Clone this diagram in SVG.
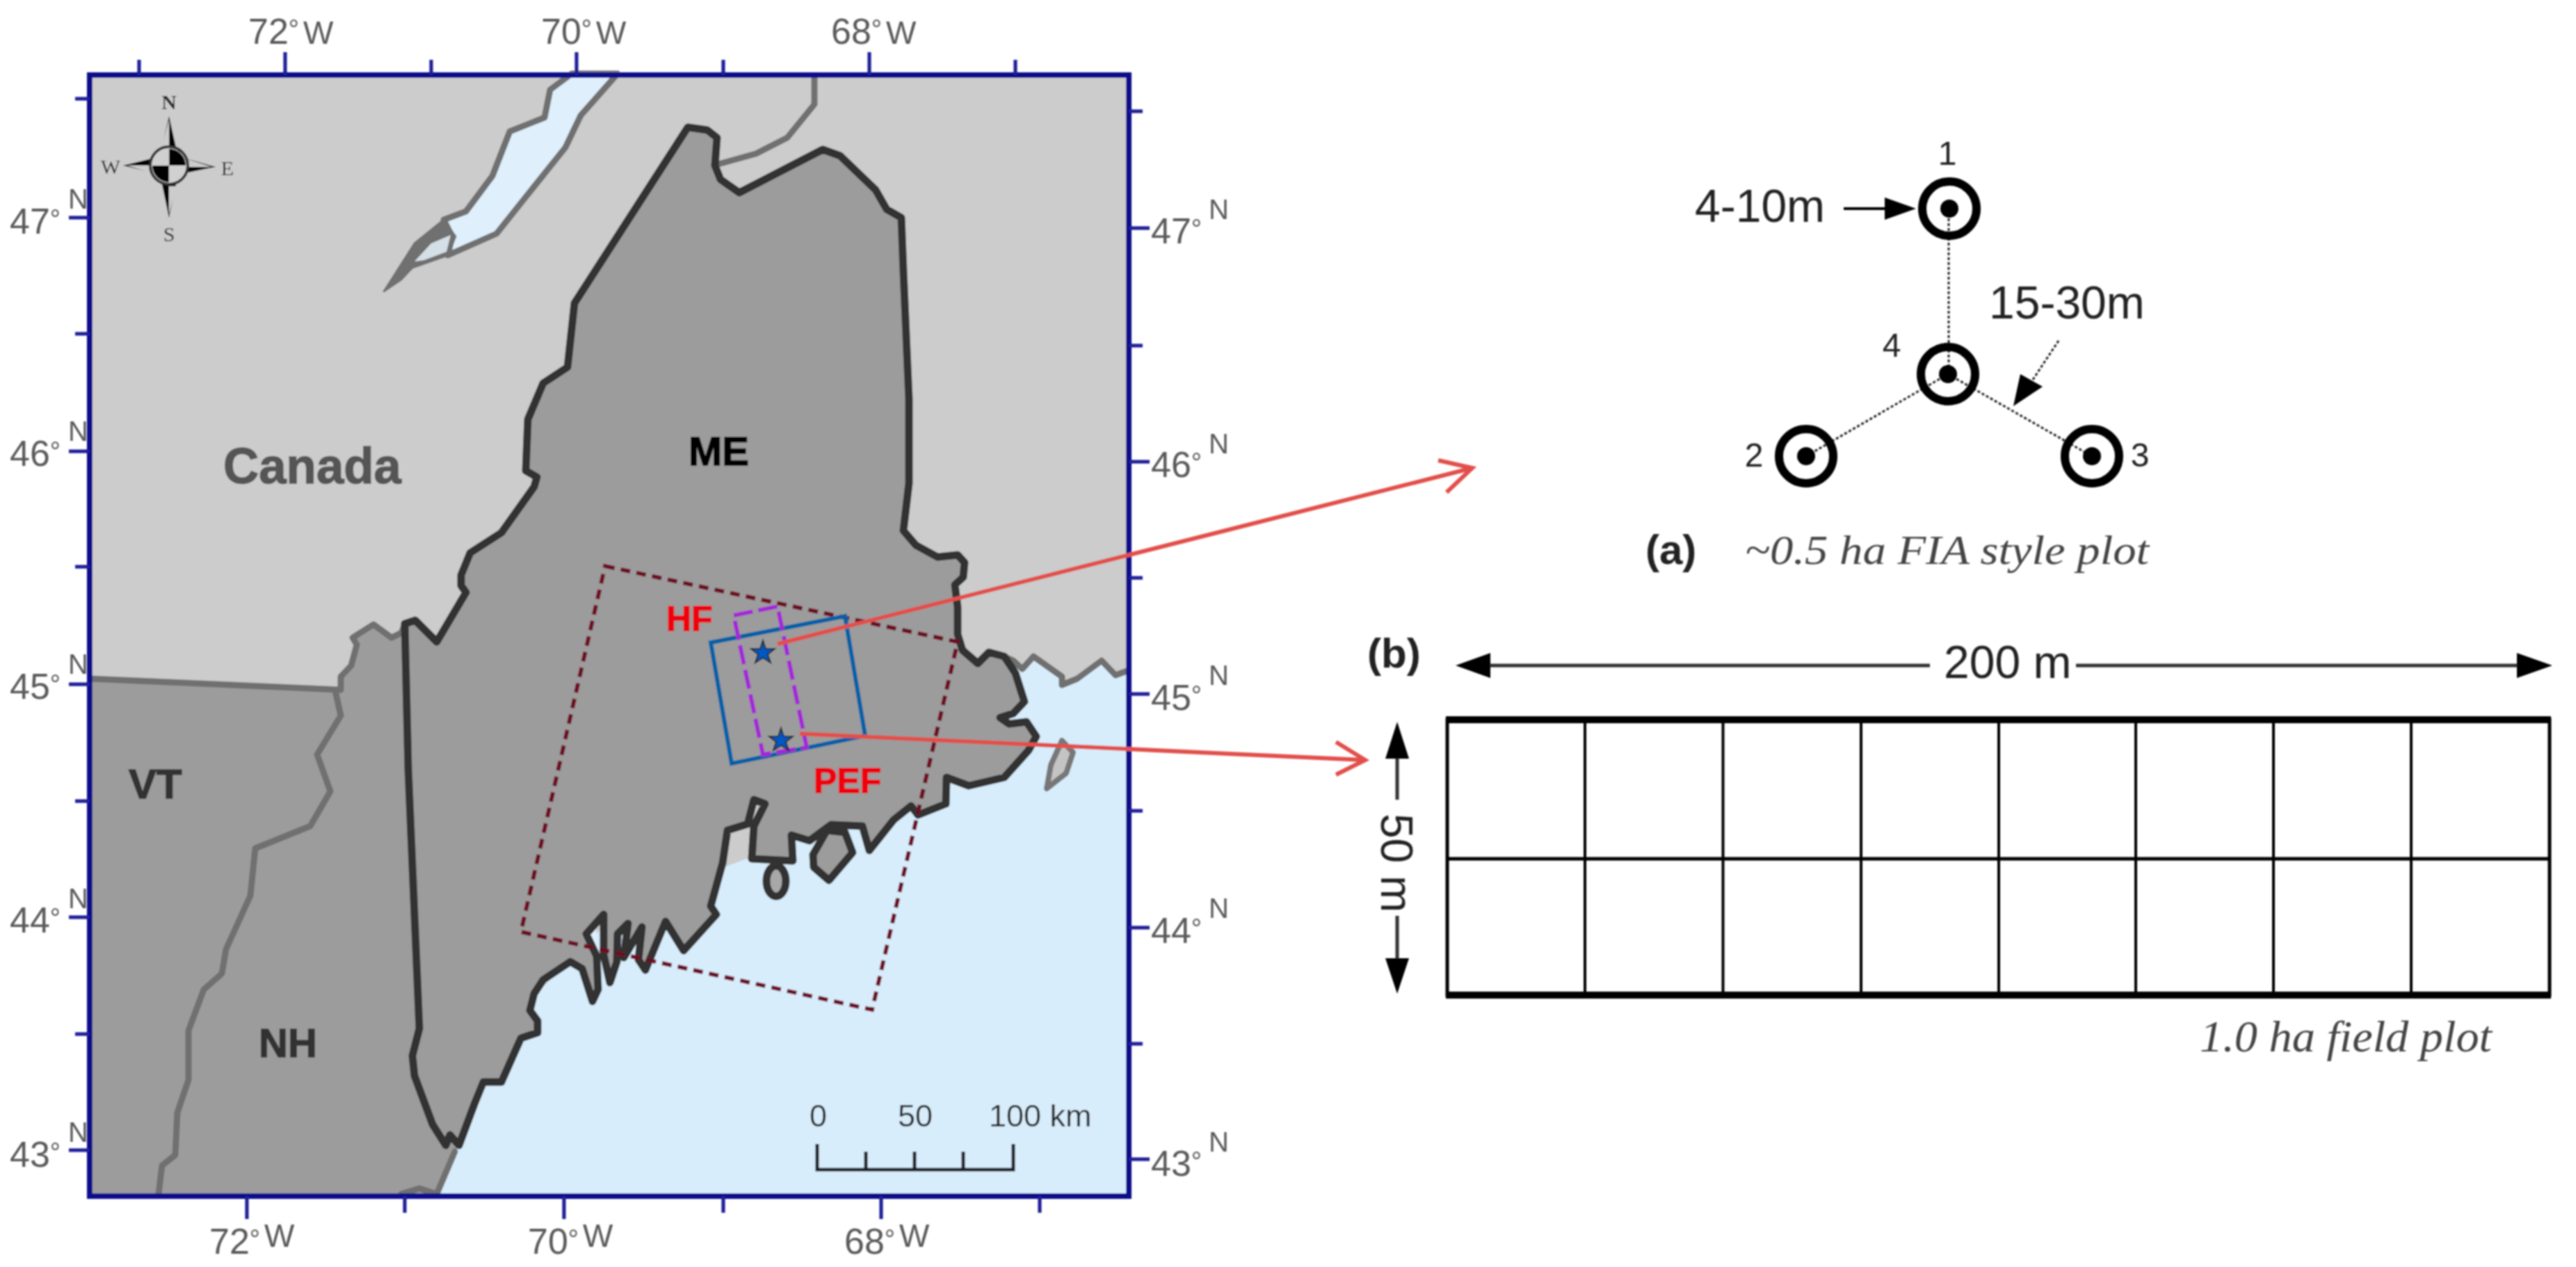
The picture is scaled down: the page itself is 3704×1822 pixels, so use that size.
<svg xmlns="http://www.w3.org/2000/svg" width="3704" height="1822" viewBox="0 0 3704 1822">
<style>
text{font-family:"Liberation Sans",Arial,sans-serif}
.coord{font-size:52px;fill:#5a5a5a}
.nlab{font-size:40px;fill:#5a5a5a}
.deg{font-size:38px}
.tick{stroke:#1a1a96;stroke-width:5;fill:none}
.state{stroke:#333;stroke-width:11;stroke-linejoin:round;stroke-linecap:round}
.grayline{stroke:#707070;stroke-width:9;stroke-linejoin:round;stroke-linecap:round}
.nofill{fill:none}
.red{font-size:50px;font-weight:bold;fill:#f00510;stroke:#f00510;stroke-width:1.5}
.place{font-weight:bold;stroke-width:1.5}
.ring{fill:none;stroke:#000;stroke-width:12}
.plotlab{font-size:48px;fill:#222}
.dim{font-size:66px;fill:#222}
.sep{stroke:#000;stroke-width:4}
.dot{stroke:#222;stroke-width:3;stroke-dasharray:4 3;fill:none}
.ital{font-family:"Liberation Serif",serif;font-style:italic;fill:#444}
.compass{font-family:"Liberation Serif",serif;font-size:30px;fill:#222}
.redarrow{stroke:#e2504c;stroke-width:6;fill:none}
</style>
<defs><filter id="soft" x="0" y="0" width="100%" height="100%"><feGaussianBlur stdDeviation="1.1"/></filter></defs>
<rect width="3704" height="1822" fill="#fff"/>
<g id="figure" filter="url(#soft)">
<g id="map">
<rect x="129" y="108" width="1494" height="1612" fill="#cccccc"/>
<path id="ocean" d="M1444 944L1457 950L1470 962L1486 944L1527 973L1527 985L1549 976L1584 950L1604 971L1620 965L1620 1717L628 1717L654 1656L700 1500L900 1300L1300 1150Z" fill="#d8edfc"/>
<path id="states" d="M131 976L490 992L490 973L505 957L513 927L507 917L537 898L563 917L577 910L582 897L597 892L628 923L670 852L663 842L663 827L676 795L721 766L768 700L772 686L756 677L759 603L781 551L816 528L826 436L989 183L1017 187L1031 198L1028 238L1036 258L1063 277L1183 215L1208 224L1259 273L1275 301L1296 313L1299 390L1307 574L1307 695L1299 763L1317 784L1348 801L1377 798L1387 809L1385 830L1373 841L1377 873L1377 912L1384 935L1406 954L1422 938L1444 944L1460 968L1473 1009L1457 1026L1438 1032L1451 1041L1476 1038L1490 1059L1479 1079L1444 1118L1393 1130L1361 1118L1360 1156L1320 1172L1310 1159L1285 1179L1250 1223L1240 1188L1195 1186L1176 1200L1164 1209L1138 1201L1140 1238L1081 1235L1084 1188L1100 1156L1084 1150L1075 1185L1046 1194L1039 1241L1022 1303L1030 1315L983 1367L957 1325L928 1395L918 1380L923 1333L897 1377L903 1328L888 1343L887 1383L877 1413L868 1373L868 1315L843 1343L858 1375L860 1423L852 1440L837 1393L820 1383L781 1409L768 1429L762 1453L773 1468L773 1485L749 1493L721 1556L695 1556L682 1588L660 1647L654 1656L628 1717L131 1717Z" fill="#9c9c9c"/>
<path id="inlet" d="M857 1333L858 1360L849 1345Z" fill="#dff0fc"/>
<g id="lake"><path d="M822 106L791 129L783 169L733 189L708 253L670 304L638 316L650 340L644 367L714 336L753 287L813 212L835 166L888 106Z" style="fill:#dff0fc" class="grayline"/>
<path d="M552 419L596 350L638 316L655 340L644 367L593 385L577 402Z" fill="#707070" stroke="#707070" stroke-width="3" stroke-linejoin="round"/><path d="M596 376L620 350L648 338L642 362L610 374Z" fill="#d4dfe6"/></g>
<path class="grayline nofill" d="M1171 112L1171 150L1132 198L1087 221L1033 236"/>
<path class="grayline nofill" d="M131 976L490 992L490 973L505 957L513 927L507 917L537 898L563 917L577 910L582 897"/>
<path class="grayline nofill" d="M482 993L490 1029L456 1085L475 1138L446 1188L367 1220L360 1288L325 1365L319 1400L293 1423L271 1482L271 1553L255 1600L252 1661L233 1676L228 1717"/>
<path class="grayline nofill" d="M654 1656L628 1717M577 1717L603 1709L628 1717"/>
<path class="grayline nofill" d="M1444 944L1457 950L1470 962L1486 944L1527 973L1527 985L1549 976L1584 950L1604 971L1620 965"/>
<path id="maine" class="state nofill" d="M587 1106L603 1479L593 1518L596 1547L622 1617L641 1647L647 1632L660 1647L682 1588L695 1556L721 1556L749 1493L773 1485L773 1468L762 1453L768 1429L781 1409L820 1383L837 1393L852 1440L860 1423L858 1375L843 1343L868 1315L868 1373L877 1413L887 1383L888 1343L903 1328L897 1377L923 1333L918 1380L928 1395L957 1325L983 1367L1030 1315L1022 1303L1039 1241L1046 1194L1075 1185L1084 1150L1100 1156L1084 1188L1081 1235L1140 1238L1138 1201L1164 1209L1176 1200L1195 1186L1240 1188L1250 1223L1285 1179L1310 1159L1320 1172L1360 1156L1361 1118L1393 1130L1444 1118L1479 1079L1490 1059L1476 1038L1451 1041L1438 1032L1457 1026L1473 1009L1460 968L1444 944L1422 938L1406 954L1384 935L1377 912L1377 873L1373 841L1385 830L1387 809L1377 798L1348 801L1317 784L1299 763L1307 695L1307 574L1299 390L1296 313L1275 301L1259 273L1208 224L1183 215L1063 277L1036 258L1028 238L1031 198L1017 187L989 183L826 436L816 528L781 551L759 603L756 677L772 686L768 700L721 766L676 795L663 827L663 842L670 852L628 923L597 892L582 897Z"/>
<path id="mdi" d="M1189 1194L1215 1197L1226 1226L1192 1266L1170 1247L1169 1229Z" style="fill:#9c9c9c" class="state"/>
<ellipse id="islet" cx="1116" cy="1267" rx="14" ry="22" style="fill:#a8a8a8" class="state"/>
<path id="manan" d="M1527 1065L1543 1082L1533 1112L1505 1134L1511 1100Z" fill="#c4c4c4" stroke="#777" stroke-width="8" stroke-linejoin="round"/>
</g>
<g id="scenes" fill="none">
<path id="scene-outer" d="M870 814L1377 923L1254 1452L749 1340Z" stroke="#6e1024" stroke-width="6" stroke-dasharray="14 9"/>
<path id="scene-blue" d="M1022 924L1215 886L1244 1058L1052 1098Z" stroke="#0060a8" stroke-width="6"/>
<path id="scene-purple" d="M1055 885L1118 872L1160 1075L1097 1085Z" stroke="#a428d8" stroke-width="6" stroke-dasharray="28 8"/>
</g>
<g id="stars" fill="#0058c0" stroke="#222" stroke-width="2">
<path id="star-hf" d="M1097 921L1101 933L1114 933L1104 941L1108 953L1097 946L1086 953L1090 941L1080 933L1093 933Z"/>
<path id="star-pef" d="M1123 1047L1127 1059L1140 1059L1130 1067L1134 1079L1123 1072L1112 1079L1116 1067L1106 1059L1119 1059Z"/>
</g>
<g id="map-frame">
<rect x="129" y="108" width="1494" height="1612" fill="none" stroke="#0a0a8c" stroke-width="8"/>
<path class="tick" d="M200 86V108M410 75V108M620 86V108M829 75V108M1040 86V108M1250 75V108M1460 86V108"/>
<path class="tick" d="M355 1720V1753M582 1720V1744M811 1720V1753M1040 1720V1744M1267 1720V1753M1495 1720V1744"/>
<path class="tick" d="M108 142H129M99 313H129M108 480H129M99 649H129M108 815H129M99 984H129M108 1152H129M99 1319H129M108 1487H129M99 1654H129"/>
<path class="tick" d="M1623 160H1643M1623 328H1653M1623 497H1643M1623 664H1653M1623 831H1643M1623 998H1653M1623 1166H1643M1623 1334H1653M1623 1501H1643M1623 1667H1653"/>
</g>
<g id="coords">
<text class="coord" x="357" y="63">72<tspan class="deg" dy="-8">°</tspan><tspan dy="8" dx="6" font-size="46">W</tspan></text>
<text class="coord" x="778" y="63">70<tspan class="deg" dy="-8">°</tspan><tspan dy="8" dx="6" font-size="46">W</tspan></text>
<text class="coord" x="1195" y="63">68<tspan class="deg" dy="-8">°</tspan><tspan dy="8" dx="6" font-size="46">W</tspan></text>
<text class="coord" x="301" y="1803">72<tspan class="deg" dy="-8">°</tspan><tspan dy="-2" dx="6" font-size="46">W</tspan></text>
<text class="coord" x="759" y="1803">70<tspan class="deg" dy="-8">°</tspan><tspan dy="-2" dx="6" font-size="46">W</tspan></text>
<text class="coord" x="1214" y="1803">68<tspan class="deg" dy="-8">°</tspan><tspan dy="-2" dx="6" font-size="46">W</tspan></text>
<text class="coord" x="14" y="336">47<tspan class="deg" dy="-8">°</tspan></text><text class="nlab" x="98" y="300">N</text>
<text class="coord" x="14" y="670">46<tspan class="deg" dy="-8">°</tspan></text><text class="nlab" x="98" y="634">N</text>
<text class="coord" x="14" y="1005">45<tspan class="deg" dy="-8">°</tspan></text><text class="nlab" x="98" y="969">N</text>
<text class="coord" x="14" y="1341">44<tspan class="deg" dy="-8">°</tspan></text><text class="nlab" x="98" y="1306">N</text>
<text class="coord" x="14" y="1678">43<tspan class="deg" dy="-8">°</tspan></text><text class="nlab" x="98" y="1642">N</text>
<text class="coord" x="1655" y="350">47<tspan class="deg" dy="-8">°</tspan></text><text class="nlab" x="1738" y="315">N</text>
<text class="coord" x="1655" y="686">46<tspan class="deg" dy="-8">°</tspan></text><text class="nlab" x="1738" y="652">N</text>
<text class="coord" x="1655" y="1021">45<tspan class="deg" dy="-8">°</tspan></text><text class="nlab" x="1738" y="985">N</text>
<text class="coord" x="1655" y="1356">44<tspan class="deg" dy="-8">°</tspan></text><text class="nlab" x="1738" y="1320">N</text>
<text class="coord" x="1655" y="1691">43<tspan class="deg" dy="-8">°</tspan></text><text class="nlab" x="1738" y="1656">N</text>
</g>
<g id="place-labels">
<text class="place" x="321" y="695" font-size="72" fill="#555" stroke="#555" textLength="256" lengthAdjust="spacingAndGlyphs">Canada</text>
<text class="place" x="990" y="669" font-size="58" fill="#000" stroke="#000">ME</text>
<text class="place" x="185" y="1148" font-size="60" fill="#333" stroke="#333">VT</text>
<text class="place" x="372" y="1520" font-size="58" fill="#333" stroke="#333">NH</text>
<text class="red" x="958" y="907">HF</text>
<text class="red" x="1170" y="1140">PEF</text>
</g>
<g id="compass">
<path d="M243 167L256 225L243 238L230 225ZM243 313L256 251L243 238L230 251ZM177 238L230 225L243 238L230 251ZM310 240L256 225L243 238L256 251Z" fill="#000"/>
<path d="M243 172L232 212L243 212ZM243 308L254 268L243 268ZM183 238L218 249L218 238ZM304 240L270 229L270 240Z" fill="#ccc"/>
<circle cx="243" cy="238" r="27" fill="#d0d0d0" stroke="#333" stroke-width="4"/>
<path d="M243 238V214A24 24 0 0 1 267 238ZM243 238V262A24 24 0 0 1 219 238Z" fill="#000"/>
<text class="compass" x="243" y="157" text-anchor="middle" font-weight="bold">N</text>
<text class="compass" x="243" y="347" text-anchor="middle">S</text>
<text class="compass" x="159" y="250" text-anchor="middle">W</text>
<text class="compass" x="327" y="252" text-anchor="middle">E</text>
</g>
<g id="scalebar">
<path d="M1175 1645V1682H1457V1645M1245 1656V1682M1315 1656V1682M1385 1656V1682" fill="none" stroke="#1c1c2a" stroke-width="5"/>
<g font-size="45" fill="#222"><text x="1164" y="1620">0</text><text x="1291" y="1620">50</text><text x="1422" y="1620">100 km</text></g>
</g>
<g id="connectors">
<path class="redarrow" d="M1118 926L2117 673M2068 662L2117 673L2080 708"/>
<path class="redarrow" d="M1150 1055L1963 1093M1921 1067L1963 1093L1921 1114"/>
<path class="dot" d="M2802 300V538M2801 538L2597 656M2801 538L3008 656"/>
<path class="dot" d="M2960 490L2921 549"/>
<path d="M2651 300H2715" stroke="#000" stroke-width="4"/>
<path d="M2755 300L2710 284V316Z" fill="#000"/>
<path d="M2895 584L2905 538L2937 556Z" fill="#000"/>
<g stroke="#333" stroke-width="5"><path d="M2143 957H2775M2985 957H3620M2009 1091V1150M2009 1317V1378"/></g>
<g fill="#000"><path d="M2093 957L2143 939V975Z"/><path d="M3670 957L3619 939V975Z"/><path d="M2009 1038L1992 1091H2026Z"/><path d="M2009 1429L1992 1378H2026Z"/></g>
</g>
<g id="plot-1"><circle class="ring" cx="2803" cy="300" r="39"/><circle cx="2803" cy="300" r="13"/><text class="plotlab" x="2800" y="237" text-anchor="middle">1</text></g>
<g id="plot-4"><circle class="ring" cx="2801" cy="538" r="39"/><circle cx="2801" cy="538" r="13"/><text class="plotlab" x="2720" y="513" text-anchor="middle">4</text></g>
<g id="plot-2"><circle class="ring" cx="2597" cy="656" r="39"/><circle cx="2597" cy="656" r="13"/><text class="plotlab" x="2522" y="671" text-anchor="middle">2</text></g>
<g id="plot-3"><circle class="ring" cx="3008" cy="656" r="39"/><circle cx="3008" cy="656" r="13"/><text class="plotlab" x="3077" y="671" text-anchor="middle">3</text></g>
<g id="panel-a-labels">
<text class="dim" x="2437" y="319">4-10m</text>
<text class="dim" x="2860" y="458">15-30m</text>
<text x="2366" y="811" font-size="60" font-weight="bold" fill="#222">(a)</text>
<text class="ital" x="2509" y="811" font-size="60" textLength="581" lengthAdjust="spacingAndGlyphs">~0.5 ha FIA style plot</text>
</g>
<g id="panel-b">
<text x="1966" y="960" font-size="60" font-weight="bold" fill="#222">(b)</text>
<text class="dim" x="2795" y="975">200 m</text>
<text class="dim" transform="translate(1986 1170) rotate(90)" style="font-size:64px">50 m</text>
<text class="ital" x="3163" y="1512" font-size="64" textLength="420" lengthAdjust="spacingAndGlyphs">1.0 ha field plot</text>
</g>
<g id="field-plot">
<rect x="2081" y="1035" width="1585" height="396" fill="none" stroke="#000" stroke-width="5"/>
<path d="M2079 1035H3668M2079 1431H3668" stroke="#000" stroke-width="10"/>
<path class="sep" d="M2279 1035V1431M2477.500 1035V1431M2676 1035V1431M2874 1035V1431M3071 1035V1431M3269 1035V1431M3467 1035V1431"/>
<path d="M2081 1235H3666" stroke="#000" stroke-width="5"/>
</g>
</g>
</svg>
